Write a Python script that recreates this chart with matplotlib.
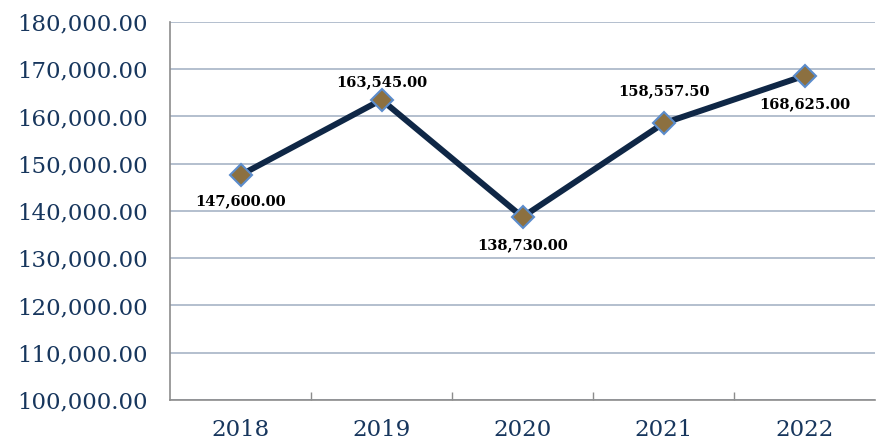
import matplotlib
matplotlib.use("Agg")
import matplotlib.pyplot as plt
from matplotlib.ticker import FuncFormatter

years = ["2018", "2019", "2020", "2021", "2022"]
values = [147600.00, 163545.00, 138730.00, 158557.50, 168625.00]
label_offsets = [(0, -26), (0, 18), (0, -28), (0, 32), (0, -28)]  # pixels

fig = plt.figure(figsize=(8.82, 4.44), dpi=100)
ax = fig.add_axes([170/882, 1-400/444, 705/882, 378/444])

x = list(range(len(years)))
ax.plot(x, values, color="#0F2746", linewidth=4.3, solid_capstyle="round",
        marker="D", markersize=11, markerfacecolor="#8C7040",
        markeredgecolor="#5B8CCB", markeredgewidth=1.5, zorder=3)

for xi, v, (dx, dy) in zip(x, values, label_offsets):
    ax.annotate(f"{v:,.2f}", (xi, v), xytext=(dx*0.72, dy*0.72),
                textcoords="offset points", ha="center", va="center",
                fontsize=10.5, fontweight="bold", family="DejaVu Serif",
                color="black", zorder=4)

ax.set_xlim(-0.5, len(years)-0.5)
ax.set_ylim(100000, 180000)
ax.set_yticks(range(100000, 180001, 10000))
ax.yaxis.set_major_formatter(FuncFormatter(lambda v, p: f"{v:,.2f}"))
ax.set_xticks(x)
ax.set_xticklabels(years)
ax.set_xticks([i + 0.5 for i in range(len(years)-1)], minor=True)

for lab in ax.get_xticklabels() + ax.get_yticklabels():
    lab.set_family("DejaVu Serif")
    lab.set_fontsize(16.5)
    lab.set_color("#17365D")

ax.tick_params(axis="y", length=0, pad=16)
ax.tick_params(axis="x", which="major", length=0, pad=14)
ax.tick_params(axis="x", which="minor", direction="in", length=6, width=1, color="#8C8C8C")

ax.grid(axis="y", color="#A7B4C6", linewidth=1.2)
ax.set_axisbelow(True)
for s in ["top", "right"]:
    ax.spines[s].set_visible(False)
for s in ["left", "bottom"]:
    ax.spines[s].set_color("#8C8C8C")
    ax.spines[s].set_linewidth(1.2)

fig.savefig("out.png", dpi=100)
